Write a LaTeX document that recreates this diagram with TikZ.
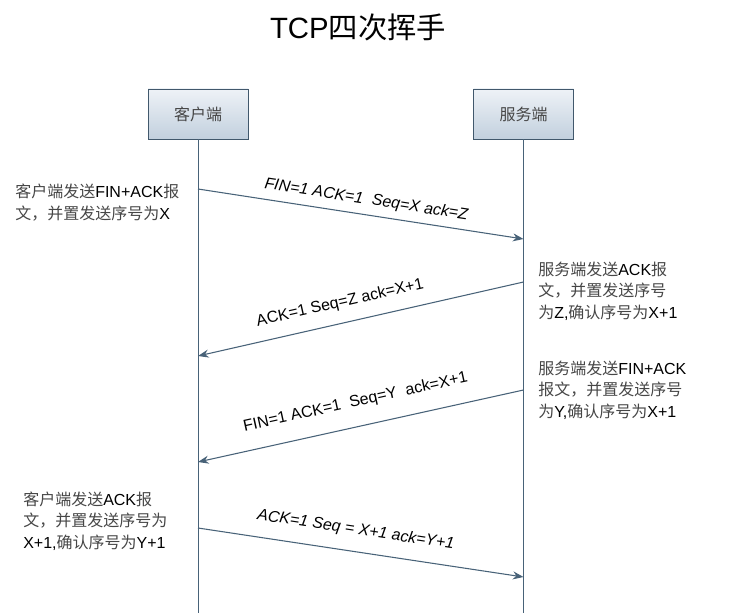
\documentclass[tikz,border=0pt]{standalone}
\usepackage{fontspec}
\setmainfont{Liberation Sans}
\newfontfamily\cjk{Noto Sans CJK SC}
\usetikzlibrary{arrows.meta}
\definecolor{linecol}{RGB}{72,98,120}
\definecolor{boxtop}{RGB}{238,242,247}
\definecolor{boxbot}{RGB}{194,208,222}
\definecolor{notecol}{RGB}{70,70,70}
\newcommand\zh[1]{{\cjk\color{notecol}#1}}
\begin{document}
\begin{tikzpicture}[x=0.75pt,y=-0.75pt,
    party/.style={draw=linecol!90!black, top color=boxtop, bottom color=boxbot,
      minimum width=75pt, minimum height=37.5pt, font=\fontsize{12}{14}\selectfont},
    lifeline/.style={draw=linecol, line width=0.7pt},
    msg/.style={draw=linecol, line width=0.8pt, -{Stealth[length=8pt,width=6pt]}},
    msglabel/.style={sloped, inner sep=0pt, font=\fontsize{12}{14}\selectfont},
    note/.style={anchor=west, align=left, inner sep=0pt, font=\fontsize{12}{16}\selectfont}]
      \useasboundingbox (0,0) rectangle (755,616);

      % Title
      \node (title) at (358,27) {\fontsize{22}{26}\selectfont TCP{\cjk 四次挥手}};

      % Define the two parties and their lifelines
      \node[party] (client) at (198,114) {\zh{客户端}};
      \node[party] (server) at (523.5,114) {\zh{服务端}};
      \coordinate (clientend) at (198,613);
      \coordinate (serverend) at (523.5,613);
      \draw[lifeline] (client.south) -- (clientend);
      \draw[lifeline] (server.south) -- (serverend);

      % Points where the messages leave and reach the lifelines
      \coordinate (c1) at (198,189);   \coordinate (s1) at (523.5,239);
      \coordinate (s2) at (523.5,282); \coordinate (c2) at (198,356);
      \coordinate (s3) at (523.5,390); \coordinate (c3) at (198,462);
      \coordinate (c4) at (198,528);   \coordinate (s4) at (523.5,577);

      % The four messages
      \draw[msg] (c1) -- node[msglabel, pos=0.51, above=5pt] {\itshape FIN=1 ACK=1\ \ Seq=X ack=Z} (s1);
      \draw[msg] (s2) -- node[msglabel, pos=0.55, above=9pt] {ACK=1 Seq=Z ack=X+1} (c2);
      \draw[msg] (s3) -- node[msglabel, pos=0.50, above=12pt] {FIN=1 ACK=1\ \ Seq=Y\ \ ack=X+1} (c3);
      \draw[msg] (c4) -- node[msglabel, pos=0.475, above=10pt] {\itshape ACK=1 Seq = X+1 ack=Y+1} (s4);

      % Notes beside the lifelines
      \node[note] (note1) at (15,202.5) {\zh{客户端发送}FIN+ACK\zh{报}\\\zh{文，并置发送序号为}X};
      \node[note] (note2) at (538,291) {\zh{服务端发送}ACK\zh{报}\\\zh{文，并置发送序号}\\\zh{为}Z,\zh{确认序号为}X+1};
      \node[note] (note3) at (538,390) {\zh{服务端发送}FIN+ACK\\\zh{报文，并置发送序号}\\\zh{为}Y,\zh{确认序号为}X+1};
      \node[note] (note4) at (23,521) {\zh{客户端发送}ACK\zh{报}\\\zh{文，并置发送序号为}\\X+1,\zh{确认序号为}Y+1};
    \end{tikzpicture}
\end{document}
